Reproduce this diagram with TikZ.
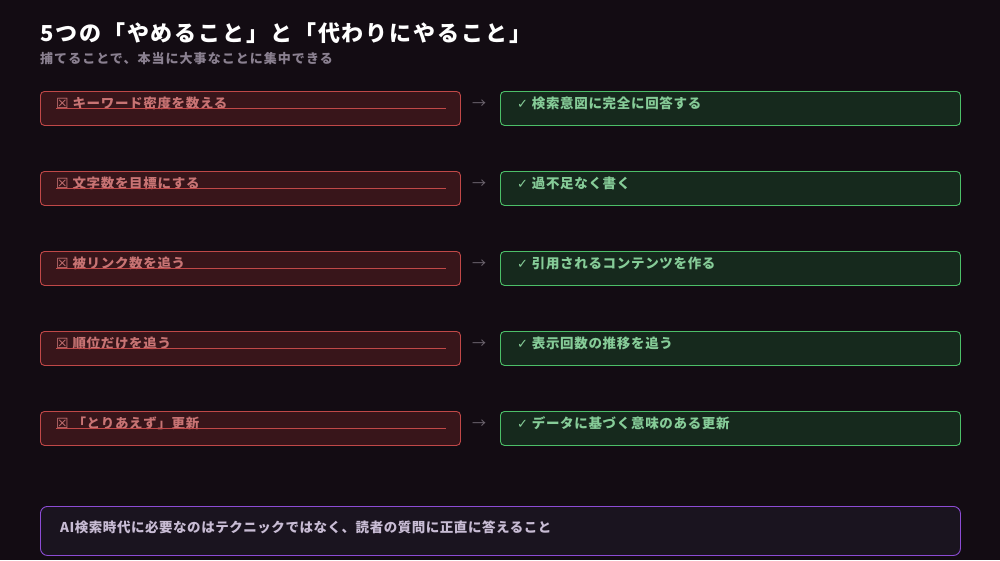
\documentclass[tikz,border=0pt]{standalone}
\usepackage{fontspec}
\setmainfont{Noto Sans CJK JP}
\newfontfamily\cjk{Noto Sans CJK JP}
\newfontfamily\symf{DejaVu Sans}
\definecolor{bg}{HTML}{130C13}
\definecolor{redfill}{HTML}{38151A}
\definecolor{redline}{HTML}{C04848}
\definecolor{redtext}{HTML}{C87474}
\definecolor{grfill}{HTML}{16291D}
\definecolor{grline}{HTML}{4CBF68}
\definecolor{grtext}{HTML}{86CC98}
\definecolor{arrowc}{HTML}{6E6670}
\definecolor{subc}{HTML}{8A8090}
\definecolor{pufill}{HTML}{1A141F}
\definecolor{puline}{HTML}{8C4CD4}
\definecolor{putext}{HTML}{C8BCD4}
\tikzset{
  stopbox/.style={draw=redline, fill=redfill, rounded corners=4pt, line width=0.9pt, minimum width=420pt, minimum height=34pt, anchor=north west, inner sep=0pt},
  dobox/.style={draw=grline, fill=grfill, rounded corners=4pt, line width=0.9pt, minimum width=460pt, minimum height=34pt, anchor=north west, inner sep=0pt},
  stoptext/.style={text=redtext, font=\cjk\bfseries\fontsize{13.5}{16}\selectfont\addfontfeatures{LetterSpace=5}, anchor=west, inner sep=0pt},
  dotext/.style={text=grtext, font=\cjk\bfseries\fontsize{13.5}{16}\selectfont\addfontfeatures{LetterSpace=5}, anchor=west, inner sep=0pt},
  arrowtext/.style={text=arrowc, font=\cjk\fontsize{14}{16}\selectfont, inner sep=0pt},
  strike/.style={draw=redline, line width=0.8pt}
}
\begin{document}
\begin{tikzpicture}[x=1pt,y=-1pt]
\fill[bg] (0,0) rectangle (1000,560);
\useasboundingbox (0,0) rectangle (1000,560);
\node[anchor=base west, inner sep=0pt, text=white, font=\cjk\bfseries\fontsize{22}{26}\selectfont\addfontfeatures{LetterSpace=8.5}] (title) at (40,41) {5つの「やめること」と「代わりにやること」};
\node[anchor=base west, inner sep=0pt, text=subc, font=\cjk\bfseries\fontsize{13}{16}\selectfont\addfontfeatures{LetterSpace=8}] (sub) at (40,63) {捕てることで、本当に大事なことに集中できる};
\foreach \i/\a/\b in {0/キーワード密度を数える/検索意図に完全に回答する,
                      1/文字数を目標にする/過不足なく書く,
                      2/被リンク数を追う/引用されるコンテンツを作る,
                      3/順位だけを追う/表示回数の推移を追う,
                      4/「とりあえず」更新/データに基づく意味のある更新}{
  \pgfmathsetmacro{\y}{91+80*\i}
  \node[stopbox] (s\i) at (40,\y) {};
  \node[stoptext] (st\i) at (56,\y+12) {{\symf\fontsize{14}{14}\selectfont ☒} \a};
  \draw[strike] (56,\y+17.5) -- (446,\y+17.5);
  \node[arrowtext] (ar\i) at (479,\y+13) {→};
  \node[dobox] (d\i) at (500,\y) {};
  \node[dotext] (dt\i) at (517,\y+12) {{\symf\fontsize{13}{14}\selectfont ✓} \b};
}
\node[draw=puline, fill=pufill, rounded corners=7pt, line width=0.9pt, minimum width=920pt, minimum height=49pt, anchor=north west, inner sep=0pt] (note) at (40,506) {};
\node[anchor=west, inner sep=0pt, text=putext, font=\cjk\bfseries\fontsize{13.5}{16}\selectfont\addfontfeatures{LetterSpace=4}] (notet) at (60,527) {AI検索時代に必要なのはテクニックではなく、読者の質問に正直に答えること};
\end{tikzpicture}
\end{document}
